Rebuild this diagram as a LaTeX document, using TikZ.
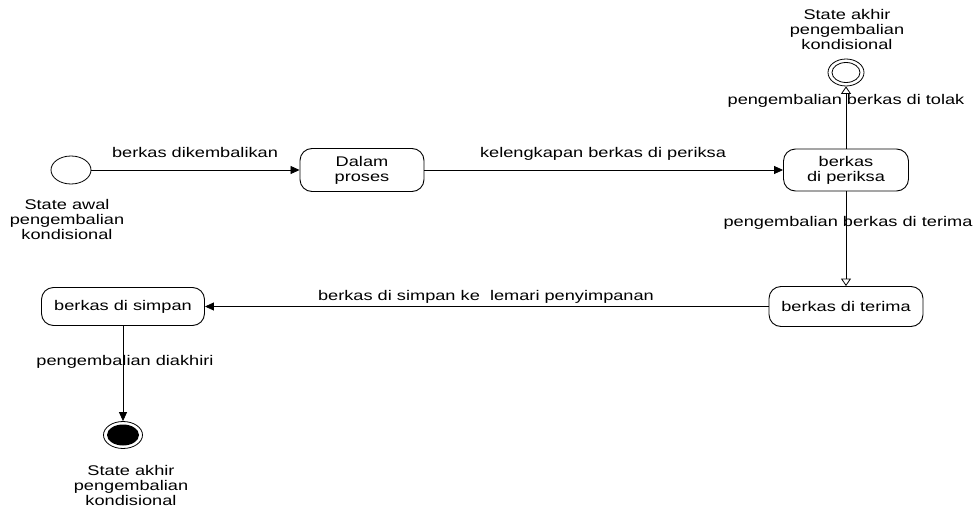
\documentclass[tikz,border=0pt]{standalone}
\usepackage{fontspec}
\setmainfont{Liberation Sans}[FakeStretch=1.3]
\usetikzlibrary{arrows.meta,shapes.geometric}

\begin{document}
\begin{tikzpicture}[x=1pt,y=-1pt,
  every node/.style={font=\fontsize{14}{15}\selectfont},
  statebox/.style={draw, rounded corners=12pt, line width=0.9pt, align=center, inner sep=0pt},
  pseudo/.style={draw, ellipse, line width=0.8pt, inner sep=0pt},
  lbl/.style={inner sep=0pt, anchor=base},
  caption/.style={inner sep=0pt, align=center, anchor=north},
  flow/.style={line width=0.8pt, -{Triangle[length=9pt,width=8pt]}},
  openflow/.style={line width=0.8pt, -{Triangle[open,length=7.5pt,width=10pt]}},
]
\useasboundingbox (0,0) rectangle (977,511);

% initial and final pseudo-states
\node[pseudo, minimum width=40pt, minimum height=28pt] (init) at (71,170) {};
\node[pseudo, minimum width=36pt, minimum height=27pt] (fin1) at (846,72.5) {};
\draw[line width=0.8pt] (fin1.center) ellipse [x radius=14pt, y radius=10pt];
\node[pseudo, minimum width=39pt, minimum height=27pt] (fin2) at (123,435) {};
\fill (fin2.center) ellipse [x radius=16pt, y radius=10.5pt];

% states
\node[statebox, minimum width=124pt, minimum height=43pt] (dalam) at (362,170) {Dalam\\proses};
\node[statebox, minimum width=125pt, minimum height=42pt] (periksa) at (846,170) {berkas\\di periksa};
\node[statebox, minimum width=154pt, minimum height=40pt] (terima) at (846,306.5) {berkas di terima};
\node[statebox, minimum width=163pt, minimum height=38pt] (simpan) at (123,306.5) {berkas di simpan};

% captions of the pseudo-states
\node[caption] (c0) at (67,199) {State awal\\pengembalian\\kondisional};
\node[caption] (c1) at (847,9.5) {State akhir\\pengembalian\\kondisional};
\node[caption] (c2) at (131,465.5) {State akhir\\pengembalian\\kondisional};

% transitions
\draw[flow] (init) -- (dalam);
\draw[flow] (dalam) -- (periksa);
\draw[openflow] (periksa) -- (fin1);
\draw[openflow] (periksa) -- (terima);
\draw[flow] (terima) -- (simpan);
\draw[flow] (simpan) -- (fin2);

% transition labels
\node[lbl] (t1) at (195,157) {berkas dikembalikan};
\node[lbl] (t2) at (603,157) {kelengkapan berkas di periksa};
\node[lbl] (t3) at (846,104) {pengembalian berkas di tolak};
\node[lbl] (t4) at (848,226.5) {pengembalian berkas di terima};
\node[lbl] (t5) at (486,300) {berkas di simpan ke\ \ lemari penyimpanan};
\node[lbl] (t6) at (125,365) {pengembalian diakhiri};
\end{tikzpicture}
\end{document}
